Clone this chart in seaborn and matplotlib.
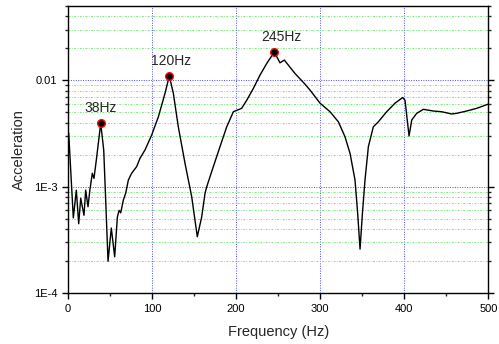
import numpy as np
import pandas as pd
import matplotlib
matplotlib.use("Agg")
import matplotlib.pyplot as plt
import matplotlib.ticker as mticker
import seaborn as sns

# ---- data ----
freq = [0.8, 6.3, 9.9, 12.7, 15.1, 19.0, 21.0, 23.8, 26.0, 28.9, 30.9, 33.7, 38.9,
        42.5, 44.5, 47.6, 51.5, 55.5, 58.7, 60.7, 62.7, 65.8, 68.6, 71.8, 75.7,
        81.7, 85.6, 91.6, 99.5, 107.5, 115.4, 120.5, 125.3, 131.2, 139.2, 147.1,
        153.8, 159.0, 163.0, 165.0, 172.9, 180.8, 188.8, 196.7, 206.6, 212.6,
        220.5, 228.4, 236.4, 245.4, 252.2, 257.3, 270.0, 281.9, 287.9, 299.8,
        311.7, 321.6, 329.5, 335.5, 341.4, 344.6, 347.4, 350.2, 353.3, 357.3,
        363.2, 369.2, 379.1, 389.0, 398.2, 400.9, 405.7, 408.9, 414.8, 422.7,
        434.6, 444.5, 456.4, 462.4, 474.3, 486.2, 500.0]
accel = [3.2e-3, 5.1e-4, 9.3e-4, 4.5e-4, 7.8e-4, 5.4e-4, 9.3e-4, 6.5e-4, 9.3e-4,
         1.34e-3, 1.2e-3, 1.79e-3, 3.95e-3,
         2.2e-3, 8.7e-4, 2.0e-4, 4.1e-4, 2.2e-4, 5.2e-4, 6.0e-4, 5.7e-4, 7.5e-4,
         8.7e-4, 1.16e-3, 1.34e-3,
         1.55e-3, 1.85e-3, 2.22e-3, 3.06e-3, 4.55e-3, 7.55e-3, 1.10e-2, 7.55e-3,
         3.66e-3, 1.66e-3, 8.1e-4,
         3.4e-4, 5.2e-4, 8.7e-4, 1.0e-3, 1.55e-3, 2.38e-3, 3.66e-3, 5.07e-3,
         5.46e-3, 6.5e-3,
         8.4e-3, 1.12e-2, 1.44e-2, 1.84e-2, 1.46e-2, 1.55e-2, 1.16e-2, 9.2e-3,
         8.1e-3, 6.1e-3,
         5.07e-3, 4.08e-3, 2.95e-3, 2.06e-3, 1.16e-3, 5.6e-4, 2.6e-4, 5.6e-4,
         1.16e-3, 2.38e-3,
         3.66e-3, 4.08e-3, 5.07e-3, 6.1e-3, 6.9e-3, 6.5e-3, 3.0e-3, 4.24e-3,
         4.9e-3, 5.34e-3,
         5.15e-3, 5.07e-3, 4.83e-3, 4.9e-3, 5.15e-3, 5.46e-3, 5.98e-3]

peak_freq = [38.9, 120.5, 245.4]
peak_accel = [3.95e-3, 1.10e-2, 1.84e-2]
peak_labels = ["38Hz", "120Hz", "245Hz"]
label_dx = [0, 1, 5]   # small horizontal text shifts (points)

ytick_vals = [1e-4, 1e-3, 1e-2]
ytick_labels = ["1E-4", "1E-3", "0.01"]
xtick_vals = [0, 100, 200, 300, 400, 500]

df = pd.DataFrame({"Frequency (Hz)": freq, "Acceleration": accel})
peaks = pd.DataFrame({"f": peak_freq, "a": peak_accel})

sns.set_style("ticks")
plt.rcParams["font.family"] = ["Liberation Sans", "DejaVu Sans"]

fig = plt.figure(figsize=(4.99, 3.44), dpi=100)
ax = fig.add_axes([0.1363, 0.1474, 0.9786 - 0.1363, 0.9834 - 0.1474])

sns.lineplot(data=df, x="Frequency (Hz)", y="Acceleration", ax=ax,
             color="black", linewidth=1.0, zorder=3)
ax.set_yscale("log")
sns.scatterplot(data=peaks, x="f", y="a", ax=ax, color="black",
                edgecolor="red", linewidth=1.0, s=30, zorder=4, legend=False)

for f, a, lab, dx in zip(peak_freq, peak_accel, peak_labels, label_dx):
    ax.annotate(lab, (f, a), xytext=(dx, 6), textcoords="offset points",
                ha="center", va="bottom", fontsize=10)

ax.set_xlim(0, 500)
ax.set_ylim(1e-4, 0.0502)
ax.set_xticks(xtick_vals)
ax.xaxis.set_minor_locator(mticker.MultipleLocator(50))
ax.set_yticks(ytick_vals)
ax.set_yticklabels(ytick_labels)
ax.yaxis.set_minor_locator(mticker.LogLocator(base=10, subs=np.arange(2, 10)))
ax.yaxis.set_minor_formatter(mticker.NullFormatter())

ax.set_xlabel("Frequency (Hz)", fontsize=10.5, labelpad=8)
ax.set_ylabel("Acceleration", fontsize=10.5, labelpad=6)

ax.tick_params(axis="both", which="major", direction="out", length=4, width=1,
               labelsize=8, colors="black")
ax.tick_params(axis="both", which="minor", direction="out", length=2.5, width=1)
ax.tick_params(axis="y", which="both", right=True)

for s in ax.spines.values():
    s.set_visible(True)
    s.set_linewidth(1.0)
    s.set_color("black")

ax.grid(False)
ax.yaxis.grid(True, which="minor", color="#7be87b", linestyle=(0, (2, 1.5, 0.8, 1.5)), linewidth=0.7)
ax.yaxis.grid(True, which="major", color="#4b4bff", linestyle=(0, (1, 1.5)), linewidth=0.7)
ax.xaxis.grid(True, which="major", color="#4b4bff", linestyle=(0, (1, 1.5)), linewidth=0.7)
ax.set_axisbelow(True)

fig.savefig("out.png", dpi=100)
